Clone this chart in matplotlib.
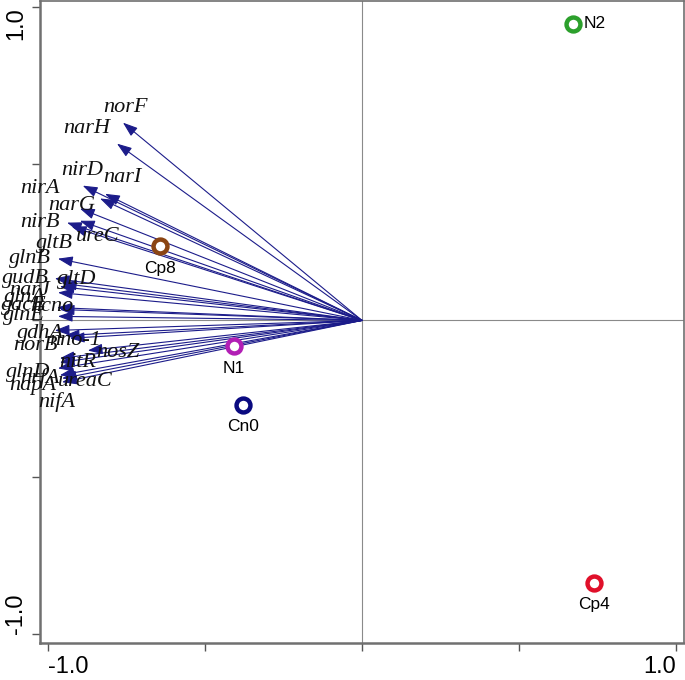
import matplotlib
matplotlib.use("Agg")
import matplotlib.pyplot as plt

# ---------------------------------------------------------------
# datos (coordenadas de la ordenacion)
# ---------------------------------------------------------------
genes = ["norF", "narH", "nirA", "nirD", "narI", "narG", "nirB", "ureC",
         "gltB", "glnB", "gudB", "gltD", "narJ", "glnA", "gacE", "hcno",
         "glnE", "gdhA", "norB", "nno-1", "nosZ", "nitR", "glnD", "nrfA",
         "napA", "ureaC", "nifA"]
# puntas de las flechas
gen_x = [-0.761, -0.780, -0.889, -0.818, -0.834, -0.898, -0.939, -0.898,
         -0.924, -0.968, -0.978, -0.955, -0.962, -0.968, -0.971, -0.962,
         -0.968, -0.978, -0.930, -0.946, -0.873, -0.962, -0.962, -0.968,
         -0.962, -0.955, -0.955]
gen_y = [0.631, 0.564, 0.430, 0.404, 0.389, 0.357, 0.312, 0.318,
         0.299, 0.197, 0.134, 0.118, 0.108, 0.089, 0.041, 0.035,
         0.013, -0.032, -0.057, -0.048, -0.096, -0.121, -0.134, -0.153,
         -0.175, -0.185, -0.197]
# posicion de las etiquetas
lab_x = [-0.752, -0.876, -1.025, -0.892, -0.764, -0.924, -1.025, -0.841,
         -0.978, -1.057, -1.072, -0.908, -1.057, -1.073, -1.075, -0.987,
         -1.075, -1.025, -1.041, -0.914, -0.777, -0.904, -1.064, -1.025,
         -1.048, -0.882, -0.971]
lab_y = [0.678, 0.611, 0.420, 0.478, 0.455, 0.366, 0.312, 0.268,
         0.245, 0.197, 0.134, 0.131, 0.096, 0.073, 0.048, 0.045,
         0.016, -0.041, -0.080, -0.064, -0.102, -0.134, -0.166, -0.185,
         -0.207, -0.194, -0.261]

sitios = ["N2", "Cp8", "N1", "Cn0", "Cp4"]
sit_x = [0.672, -0.643, -0.408, -0.379, 0.739]
sit_y = [0.946, 0.236, -0.083, -0.271, -0.838]
sit_col = ["#2ca02c", "#8b4513", "#b21fb5", "#0a0a80", "#e0102a"]

color_flecha = "#1c1c8a"

fig = plt.figure(figsize=(6.85, 6.8), dpi=100)
ax = fig.add_axes([40 / 685, 37 / 680, 644 / 685, 642 / 680])
ax.set_xlim(-1.025, 1.025)
ax.set_ylim(-1.029, 1.019)

# lineas del origen
ax.axhline(0, color="#8a8a8a", lw=0.8, zorder=1)
ax.axvline(0, color="#8a8a8a", lw=0.8, zorder=1)

# flechas de los genes
for g, x, y, lx, ly in zip(genes, gen_x, gen_y, lab_x, lab_y):
    ax.annotate("", xy=(x, y), xytext=(0, 0),
                arrowprops=dict(arrowstyle="-|>,head_length=0.9,head_width=0.32",
                                color=color_flecha, lw=0.8, shrinkA=0, shrinkB=0),
                zorder=2)
    ax.text(lx, ly, g, family="Liberation Serif", style="italic", fontsize=16,
            color="#111111", ha="center", va="center", zorder=3)

# sitios
for s, x, y, c in zip(sitios, sit_x, sit_y, sit_col):
    ax.plot(x, y, "o", ms=10, mfc="white", mec=c, mew=3.2, zorder=4)
    if s == "N2":
        ax.text(x + 0.035, y, s, family="Liberation Sans", fontsize=12.5,
                ha="left", va="center", zorder=5)
    else:
        ax.text(x, y - 0.045, s, family="Liberation Sans", fontsize=12.5,
                ha="center", va="top", zorder=5)

# ejes
for lado in ["left", "bottom", "top", "right"]:
    ax.spines[lado].set_color("#707070")
    ax.spines[lado].set_linewidth(1.2)
ax.spines["left"].set_linewidth(1.8)
ax.spines["bottom"].set_linewidth(1.8)

ticks = [-1.0, -0.5, 0.0, 0.5, 1.0]
ax.set_xticks(ticks)
ax.set_yticks(ticks)
ax.set_xticklabels(["-1.0", "", "", "", "1.0"], family="Liberation Sans", fontsize=17)
ax.set_yticklabels(["-1.0", "", "", "", "1.0"], family="Liberation Sans", fontsize=17,
                   rotation=90)
ax.tick_params(length=6, color="#555555", width=1)
xl = ax.get_xticklabels()
xl[0].set_ha("left")
xl[-1].set_ha("right")
yl = ax.get_yticklabels()
yl[0].set_va("bottom")
yl[-1].set_va("top")

fig.savefig("out.png", dpi=100)
